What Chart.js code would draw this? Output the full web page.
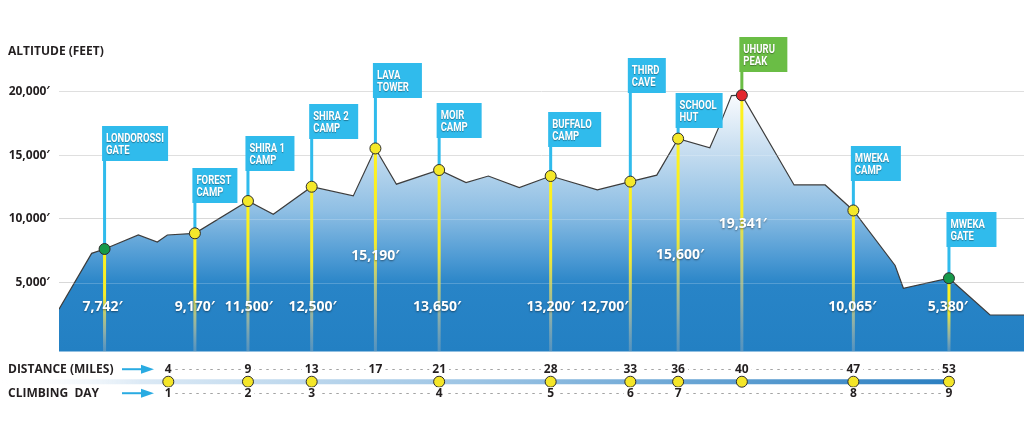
<!DOCTYPE html>
<html>
<head>
<meta charset="utf-8">
<script src="https://cdn.jsdelivr.net/npm/chart.js@4.4.0/dist/chart.umd.min.js"></script>
<style>
  html, body { margin: 0; padding: 0; background: #fff; }
  #wrap { width: 1024px; height: 430px; }
</style>
</head>
<body>
<div id="wrap"><canvas id="chart" width="1024" height="430"></canvas></div>
<script>
// Altitude profile: distance along the route (miles) and height (feet)
const profileMiles = [-2.86, -0.81, 0, 2.12, 3.31, 3.94, 5.67, 9, 10.59, 13, 15.61, 17, 18.32, 21, 22.69, 24.09,
  26.03, 28, 30.93, 33, 34.66, 36, 37.99, 38.57, 39.35, 40, 43.28, 45.23, 47, 49.62, 50.14, 53, 55.58, 57.71];
const profileFeet = [2920, 7300, 7640, 8740, 8190, 8740, 8870, 11400, 10360, 12520, 11800, 15520, 12720, 13830, 12840, 13360,
  12450, 13360, 12270, 12920, 13430, 16290, 15570, 17230, 19660, 19690, 12660, 12660, 10660, 6350, 4560, 5350, 2470, 2470];

// Stops along the route
const stopNames = [["LONDOROSSI", "GATE"], ["FOREST", "CAMP"], ["SHIRA 1", "CAMP"], ["SHIRA 2", "CAMP"], ["LAVA", "TOWER"],
  ["MOIR", "CAMP"], ["BUFFALO", "CAMP"], ["THIRD", "CAVE"], ["SCHOOL", "HUT"], ["UHURU", "PEAK"], ["MWEKA", "CAMP"], ["MWEKA", "GATE"]];
const stopMiles = [0, 5.67, 9, 13, 17, 21, 28, 33, 36, 40, 47, 53];
const stopFeet = [7640, 8870, 11400, 12520, 15520, 13830, 13360, 12920, 16290, 19690, 10660, 5350];
const stopAltLabels = ["7,742′", "9,170′", "11,500′", "12,500′", "15,190′", "13,650′", "13,200′", "12,700′", "15,600′", "19,341′", "10,065′", "5,380′"];
const stopKinds = ["gate", "camp", "camp", "camp", "camp", "camp", "camp", "camp", "camp", "peak", "camp", "gate"];

// Bottom strip
const distanceMiles = [4, 9, 13, 17, 21, 28, 33, 36, 40, 47, 53];
const campMiles = [4, 9, 13, 21, 28, 33, 36, 40, 47, 53];
const dayMiles = [4, 9, 13, 21, 28, 33, 36, 47, 53];
const dayLabels = ["1", "2", "3", "4", "5", "6", "7", "8", "9"];

const yTicks = [5000, 10000, 15000, 20000];

// ---- layout / style ----
const AREA_BASE = -400;
const TRACK_FEET = -2760;
const TRACK_START = -6.57;
const FONT = '"Open Sans", "DejaVu Sans", sans-serif';
const FLAG_FONT = 'Roboto, "Liberation Sans", sans-serif';
const INK = '#231f20';
const FLAG_BLUE = '#30bbec';
const FLAG_GREEN = '#6abd45';
const dotColor = { gate: '#16994a', camp: '#f4e82a', peak: '#e3262d' };

// flag box top (px) and width (px), value label y (px) and x nudge
const flagTop = [126, 168, 136, 104, 63, 103, 112, 58, 93, 37, 146, 212];
const flagW = [66, 45, 49, 49, 49, 45, 53, 38, 47, 48, 50, 50];
const valueY = [307, 307, 307, 307, 256, 307, 307, 307, 255, 224, 307, 307];
const valueDx = [-2, 0, 1, 1, 0, -2, 0, -26, 2, 1, -1, -1];

function areaFill(context) {
  const chart = context.chart;
  const y = chart.scales.y;
  if (!y || !chart.chartArea) return '#2581c4';
  const top = y.getPixelForValue(19700), bot = y.getPixelForValue(AREA_BASE);
  const g = chart.ctx.createLinearGradient(0, top, 0, bot);
  g.addColorStop(0, '#f9fbfe');
  g.addColorStop(0.22, '#c6ddf0');
  g.addColorStop(0.45, '#8fbfe4');
  g.addColorStop(0.63, '#4f9bd4');
  g.addColorStop(0.74, '#2884c7');
  g.addColorStop(1, '#2380c3');
  return g;
}

function trackFill(context) {
  const chart = context.chart;
  if (!chart.chartArea) return '#8ab8dc';
  const x = chart.scales.x;
  const g = chart.ctx.createLinearGradient(x.getPixelForValue(TRACK_START), 0, x.getPixelForValue(53), 0);
  g.addColorStop(0, 'rgba(255,255,255,0)');
  g.addColorStop(0.15, '#dbe9f5');
  g.addColorStop(0.5, '#9cc4e4');
  g.addColorStop(1, '#2b7fc1');
  return g;
}

// poles, flags, drop lines and value labels, drawn right after the profile area
const overlay = {
  id: 'overlay',
  afterDatasetDraw(chart, args) {
    if (args.index !== 0) return;
    const ctx = chart.ctx, x = chart.scales.x, y = chart.scales.y, area = chart.chartArea;
    const base = y.getPixelForValue(AREA_BASE);
    ctx.save();

    // grid lines showing faintly through the blue
    ctx.strokeStyle = 'rgba(255,255,255,0.2)';
    ctx.lineWidth = 1;
    y.ticks.forEach(t => {
      const py = Math.round(y.getPixelForValue(t.value)) + 0.5;
      ctx.beginPath(); ctx.moveTo(area.left, py); ctx.lineTo(area.right, py); ctx.stroke();
    });

    stopMiles.forEach((m, i) => {
      const px = x.getPixelForValue(m), py = y.getPixelForValue(stopFeet[i]);
      // yellow drop line
      const g = ctx.createLinearGradient(0, py, 0, base);
      g.addColorStop(0, '#fff21c');
      g.addColorStop(0.45, '#f6ec2a');
      g.addColorStop(0.8, 'rgba(200,200,150,0.65)');
      g.addColorStop(1, 'rgba(170,180,185,0.35)');
      ctx.fillStyle = g;
      ctx.fillRect(px - 1.5, py, 3, base - py);

      // pole + flag
      const col = stopKinds[i] === 'peak' ? FLAG_GREEN : FLAG_BLUE;
      ctx.fillStyle = col;
      ctx.fillRect(px - 1.5, flagTop[i] + 4, 3, py - flagTop[i] - 4);
      ctx.fillRect(px - 2.5, flagTop[i], flagW[i], 35);

      ctx.save();
      ctx.font = 'bold 13px ' + FLAG_FONT;
      ctx.fillStyle = '#fff';
      ctx.textBaseline = 'middle';
      ctx.shadowColor = 'rgba(0,0,0,0.35)';
      ctx.shadowOffsetY = 1;
      ctx.shadowBlur = 1;
      ctx.translate(px + 1.5, 0);
      ctx.scale(0.73, 1);
      stopNames[i].forEach((ln, k) => ctx.fillText(ln, 0, flagTop[i] + 13 + k * 11.8));
      ctx.restore();

      // altitude value
      ctx.save();
      ctx.font = 'bold 14px ' + FONT;
      ctx.fillStyle = '#fff';
      ctx.textAlign = 'center';
      ctx.textBaseline = 'middle';
      ctx.shadowColor = 'rgba(0,0,0,0.45)';
      ctx.shadowOffsetY = 1;
      ctx.shadowBlur = 2;
      ctx.fillText(stopAltLabels[i], px + valueDx[i], valueY[i]);
      ctx.restore();
    });
    ctx.restore();
  },

  // distance / day rows under the chart
  afterDraw(chart) {
    const ctx = chart.ctx, x = chart.scales.x, y = chart.scales.y;
    const trackY = y.getPixelForValue(TRACK_FEET);
    const rows = [
      { title: 'DISTANCE (MILES)', miles: distanceMiles, labels: distanceMiles.map(String), py: trackY - 12.5 },
      { title: 'CLIMBING  DAY', miles: dayMiles, labels: dayLabels, py: trackY + 11.5 }
    ];
    ctx.save();
    ctx.font = 'bold 12px ' + FONT;
    ctx.textBaseline = 'middle';
    rows.forEach(r => {
      // dashes
      ctx.strokeStyle = '#a3a3a3';
      ctx.lineWidth = 1;
      ctx.setLineDash([2.5, 4.5]);
      ctx.beginPath();
      ctx.moveTo(x.getPixelForValue(r.miles[0]), Math.round(r.py) + 0.5);
      ctx.lineTo(x.getPixelForValue(r.miles[r.miles.length - 1]), Math.round(r.py) + 0.5);
      ctx.stroke();
      ctx.setLineDash([]);
      // numbers
      ctx.textAlign = 'center';
      r.miles.forEach((m, i) => {
        const px = x.getPixelForValue(m);
        const w = ctx.measureText(r.labels[i]).width;
        ctx.fillStyle = '#fff';
        ctx.fillRect(px - w / 2 - 3, r.py - 6, w + 6, 12);
        ctx.fillStyle = INK;
        ctx.fillText(r.labels[i], px, r.py + 0.5);
      });
      // row title and arrow
      ctx.textAlign = 'left';
      ctx.fillStyle = INK;
      ctx.fillText(r.title, 8, r.py + 0.5);
      ctx.strokeStyle = '#29abe2';
      ctx.lineWidth = 2;
      ctx.beginPath(); ctx.moveTo(122, r.py); ctx.lineTo(144, r.py); ctx.stroke();
      ctx.fillStyle = '#29abe2';
      ctx.beginPath(); ctx.moveTo(141, r.py - 4.5); ctx.lineTo(154, r.py); ctx.lineTo(141, r.py + 4.5); ctx.closePath(); ctx.fill();
    });
    ctx.restore();
  }
};

new Chart(document.getElementById('chart'), {
  type: 'line',
  data: {
    datasets: [
      {
        label: 'Altitude',
        data: profileMiles.map((m, i) => ({ x: m, y: profileFeet[i] })),
        borderColor: '#3d3d3d',
        borderWidth: 1.2,
        pointRadius: 0,
        tension: 0,
        fill: { value: AREA_BASE },
        backgroundColor: areaFill,
        order: 10
      },
      {
        label: 'Stops',
        data: stopMiles.map((m, i) => ({ x: m, y: stopFeet[i] })),
        showLine: false,
        pointRadius: 5.5,
        pointBackgroundColor: stopKinds.map(k => dotColor[k]),
        pointBorderColor: '#2d2d2d',
        pointBorderWidth: 1,
        clip: false,
        order: 0
      },
      {
        label: 'Track',
        data: [{ x: TRACK_START, y: TRACK_FEET }, { x: 53, y: TRACK_FEET }],
        borderColor: trackFill,
        borderWidth: 5,
        pointRadius: 0,
        clip: false,
        order: 5
      },
      {
        label: 'Camps',
        data: campMiles.map(m => ({ x: m, y: TRACK_FEET })),
        showLine: false,
        pointRadius: 5.5,
        pointBackgroundColor: '#f4e629',
        pointBorderColor: '#2d2d2d',
        pointBorderWidth: 1,
        clip: false,
        order: 0
      }
    ]
  },
  options: {
    responsive: false,
    animation: false,
    layout: { autoPadding: false, padding: { left: 8, right: 0, top: 0, bottom: 10 } },
    plugins: {
      legend: { display: false },
      tooltip: { enabled: false },
      title: {
        display: true,
        text: 'ALTITUDE (FEET)',
        align: 'start',
        color: INK,
        font: { family: FONT, size: 12, weight: 'bold' },
        padding: { top: 44, bottom: 2 }
      }
    },
    scales: {
      x: { type: 'linear', min: -2.86, max: 57.71, display: false },
      y: {
        type: 'linear',
        min: -5760,
        max: 22420,
        afterFit: (scale) => {
          scale.width = 51;
          scale.paddingTop = 0;
          scale.paddingBottom = 0;
        },
        afterBuildTicks: (scale) => { scale.ticks = yTicks.map(v => ({ value: v })); },
        grid: { color: '#d8d8d8', drawTicks: false },
        border: { display: false },
        ticks: {
          padding: 9,
          color: INK,
          font: { family: FONT, size: 12, weight: 'bold' },
          callback: (v) => v.toLocaleString('en-US') + '′'
        }
      }
    }
  },
  plugins: [overlay]
});
</script>
</body>
</html>
